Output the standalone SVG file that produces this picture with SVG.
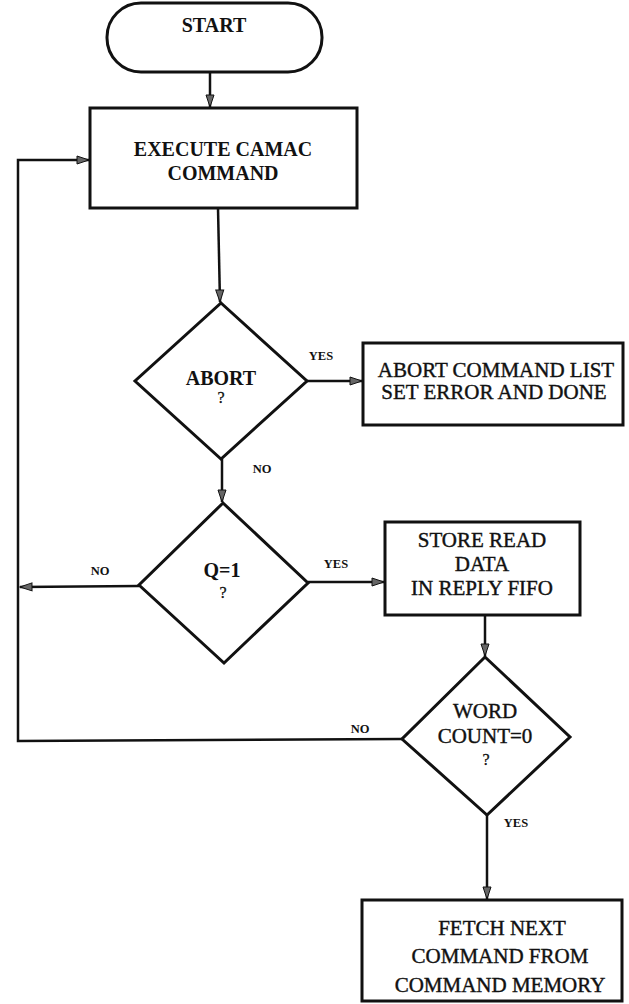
<svg xmlns="http://www.w3.org/2000/svg" width="629" height="1004" viewBox="0 0 629 1004">
<style>
.shape{fill:#fff;stroke:#111;stroke-width:3}
.conn{fill:none;stroke:#111;stroke-width:2.5}
.t{font-family:"Liberation Serif","Times New Roman",serif;fill:#111;text-anchor:middle}
.b{font-weight:bold;font-size:20px}
.r{font-size:21px;stroke:#111;stroke-width:0.4}
.lbl{font-family:"Liberation Serif","Times New Roman",serif;font-weight:bold;font-size:12.5px;fill:#111;text-anchor:middle}
.q{font-size:16px;stroke:#111;stroke-width:0.3}
</style>
<defs>
<marker id="ah" markerUnits="userSpaceOnUse" markerWidth="14" markerHeight="10" refX="13" refY="5" orient="auto">
<path d="M1,1 L13,5 L1,9 Z" fill="#666" stroke="#111" stroke-width="1"/>
</marker>
</defs>
<g id="connectors">
<line class="conn" x1="210" y1="72" x2="210" y2="107" marker-end="url(#ah)"/>
<line class="conn" x1="218" y1="208" x2="220" y2="302" marker-end="url(#ah)"/>
<line class="conn" x1="307" y1="381" x2="362" y2="381" marker-end="url(#ah)"/>
<line class="conn" x1="222" y1="459" x2="222" y2="502" marker-end="url(#ah)"/>
<line class="conn" x1="139" y1="586" x2="20" y2="587" marker-end="url(#ah)"/>
<line class="conn" x1="308" y1="582" x2="384" y2="582" marker-end="url(#ah)"/>
<line class="conn" x1="485" y1="615" x2="485" y2="656" marker-end="url(#ah)"/>
<line class="conn" x1="487" y1="815" x2="487" y2="899" marker-end="url(#ah)"/>
<polyline class="conn" points="402,739 18,741 18,160 89,160" marker-end="url(#ah)"/>
<text class="lbl" x="321" y="360">YES</text>
<text class="lbl" x="262" y="473">NO</text>
<text class="lbl" x="100" y="575">NO</text>
<text class="lbl" x="336" y="568">YES</text>
<text class="lbl" x="360" y="733">NO</text>
<text class="lbl" x="516" y="827">YES</text>
</g>
<g id="start">
<rect class="shape" x="107" y="3" width="215" height="69" rx="34" ry="34"/>
<text class="t b" x="214" y="32">START</text>
</g>
<g id="execute">
<rect class="shape" x="90" y="108" width="267" height="100"/>
<text class="t b" x="223" y="156">EXECUTE CAMAC</text>
<text class="t b" x="223" y="180">COMMAND</text>
</g>
<g id="abort-decision">
<polygon class="shape" points="221,303 307,381 221,459 135,381"/>
<text class="t b" x="221" y="385">ABORT</text>
<text class="t q" x="221" y="403">?</text>
</g>
<g id="abort-list">
<rect class="shape" x="363" y="343" width="260" height="82"/>
<text class="t r" x="496" y="377" font-size="20.5">ABORT COMMAND LIST</text>
<text class="t r" x="494" y="399" font-size="20.5">SET ERROR AND DONE</text>
</g>
<g id="q-decision">
<polygon class="shape" points="223,503 308,583 224,663 139,585"/>
<text class="t b" x="222" y="577">Q=1</text>
<text class="t q" x="223" y="598">?</text>
</g>
<g id="store">
<rect class="shape" x="385" y="522" width="195" height="93"/>
<text class="t r" x="482" y="547">STORE READ</text>
<text class="t r" x="482" y="571">DATA</text>
<text class="t r" x="482" y="595">IN REPLY FIFO</text>
</g>
<g id="word-decision">
<polygon class="shape" points="485,657 570,737 487,815 402,739"/>
<text class="t r" x="485" y="718">WORD</text>
<text class="t r" x="485" y="743">COUNT=0</text>
<text class="t q" x="486" y="765">?</text>
</g>
<g id="fetch">
<rect class="shape" x="362" y="900" width="260" height="101"/>
<text class="t r" x="502" y="935">FETCH NEXT</text>
<text class="t r" x="500" y="963">COMMAND FROM</text>
<text class="t r" x="500" y="992">COMMAND MEMORY</text>
</g>
</svg>
